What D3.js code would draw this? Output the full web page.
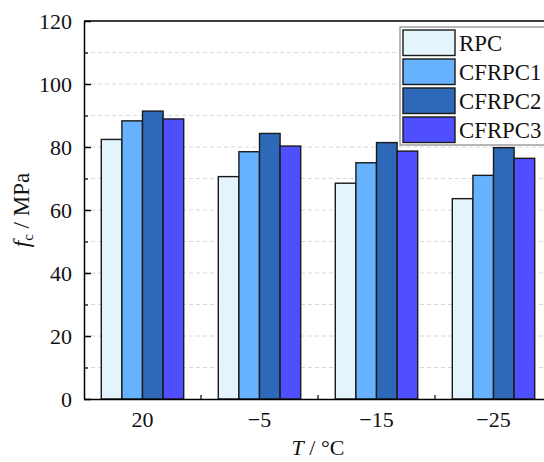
<!DOCTYPE html>
<html><head><meta charset="utf-8">
<script src="https://cdn.jsdelivr.net/npm/d3@7"></script>
<style>html,body{margin:0;padding:0;background:#fff;overflow:hidden}</style>
</head><body>
<svg id="c" width="544" height="462"></svg>
<script>
const categories = ["20", "\u22125", "\u221215", "\u221225"];
const seriesNames = ["RPC", "CFRPC1", "CFRPC2", "CFRPC3"];
const rpc    = [82.4, 70.6, 68.5, 63.6];
const cfrpc1 = [88.3, 78.5, 75.0, 71.0];
const cfrpc2 = [91.4, 84.3, 81.4, 79.8];
const cfrpc3 = [88.9, 80.3, 78.7, 76.4];
const yTicks = [0, 20, 40, 60, 80, 100, 120];
const colors = ["#E3F4FD", "#66B2FF", "#2E68B8", "#4F4FFF"];

(function(){
const series = [rpc, cfrpc1, cfrpc2, cfrpc3];
const svg = d3.select("#c");
const pL = 84, pR = 552, pT = 21, pB = 399;
const font = "'Liberation Serif','Times New Roman',serif";

const x = d3.scaleBand().domain(categories).range([pL, pR]).paddingInner(0).paddingOuter(0);
const inner = d3.scaleBand().domain(seriesNames).range([17.3, x.bandwidth() - 17.3]).padding(0);
const y = d3.scaleLinear().domain([0, 120]).range([pB, pT]);

// gridlines
svg.append("g").selectAll("line").data(d3.range(10, 130, 10)).join("line")
  .attr("x1", pL).attr("x2", pR).attr("y1", d => y(d)).attr("y2", d => y(d))
  .attr("stroke", "#d8d8d8").attr("stroke-width", 1).attr("stroke-dasharray", "4,3");

// bars
const g = svg.append("g");
categories.forEach((c, ci) => {
  series.forEach((s, si) => {
    g.append("rect")
      .attr("x", x(c) + inner(seriesNames[si]))
      .attr("y", y(s[ci]))
      .attr("width", inner.bandwidth())
      .attr("height", y(0) - y(s[ci]))
      .attr("fill", colors[si]).attr("stroke", "#1a1a1a").attr("stroke-width", 1.4);
  });
});

// frame top
svg.append("line").attr("x1", pL).attr("x2", pR).attr("y1", pT).attr("y2", pT)
  .attr("stroke", "#000").attr("stroke-width", 1.5);

// y axis
const yAxis = d3.axisLeft(y).tickValues(yTicks).tickSizeInner(-7).tickSizeOuter(0).tickPadding(12);
const ya = svg.append("g").attr("transform", `translate(${pL},0)`).call(yAxis);
ya.select(".domain").attr("stroke", "#000").attr("stroke-width", 1.5);
ya.selectAll(".tick line").attr("stroke", "#000").attr("stroke-width", 1.5);
ya.selectAll("text").attr("font-family", font).attr("font-size", 22).attr("fill", "#111");
const yMinor = d3.axisLeft(y).tickValues(d3.range(10, 120, 20)).tickSizeInner(-4).tickSizeOuter(0).tickFormat("");
const ym = svg.append("g").attr("transform", `translate(${pL},0)`).call(yMinor);
ym.select(".domain").remove();
ym.selectAll(".tick line").attr("stroke", "#000").attr("stroke-width", 1.2);

// x axis
const xAxis = d3.axisBottom(x).tickSize(0).tickPadding(12);
const xa = svg.append("g").attr("transform", `translate(0,${pB})`).call(xAxis);
xa.select(".domain").attr("stroke", "#000").attr("stroke-width", 1.5);
xa.selectAll("text").attr("font-family", font).attr("font-size", 22).attr("fill", "#111");
svg.append("g").selectAll("line").data(categories.slice(1)).join("line")
  .attr("x1", d => x(d)).attr("x2", d => x(d)).attr("y1", pB).attr("y2", pB - 4)
  .attr("stroke", "#000").attr("stroke-width", 1.2);

// axis titles
const xt = svg.append("text").attr("x", (pL + pR) / 2).attr("y", 455)
  .attr("text-anchor", "middle").attr("font-family", font).attr("font-size", 22).attr("fill", "#111");
xt.append("tspan").attr("font-style", "italic").text("T");
xt.append("tspan").text(" / \u00B0C");

const yt = svg.append("text").attr("transform", `translate(29,${(pT + pB) / 2}) rotate(-90)`)
  .attr("text-anchor", "middle").attr("font-family", font).attr("font-size", 23).attr("fill", "#111");
yt.append("tspan").attr("font-style", "italic").text("f");
yt.append("tspan").attr("font-size", 15).attr("dy", 4).text("c");
yt.append("tspan").attr("dy", -4).text(" / MPa");

// legend
const lg = svg.append("g");
lg.append("rect").attr("x", 400).attr("y", 27).attr("width", 160).attr("height", 118)
  .attr("fill", "#fff").attr("stroke", "#888").attr("stroke-width", 1.2);
seriesNames.forEach((n, i) => {
  const yy = 30 + i * 29;
  lg.append("rect").attr("x", 403).attr("y", yy).attr("width", 52).attr("height", 25.5)
    .attr("fill", colors[i]).attr("stroke", "#1a1a1a").attr("stroke-width", 1.4);
  lg.append("text").attr("x", 459).attr("y", yy + 21).attr("font-family", font).attr("font-size", 22.8)
    .attr("fill", "#111").text(n);
});
})();
</script>
</body></html>
